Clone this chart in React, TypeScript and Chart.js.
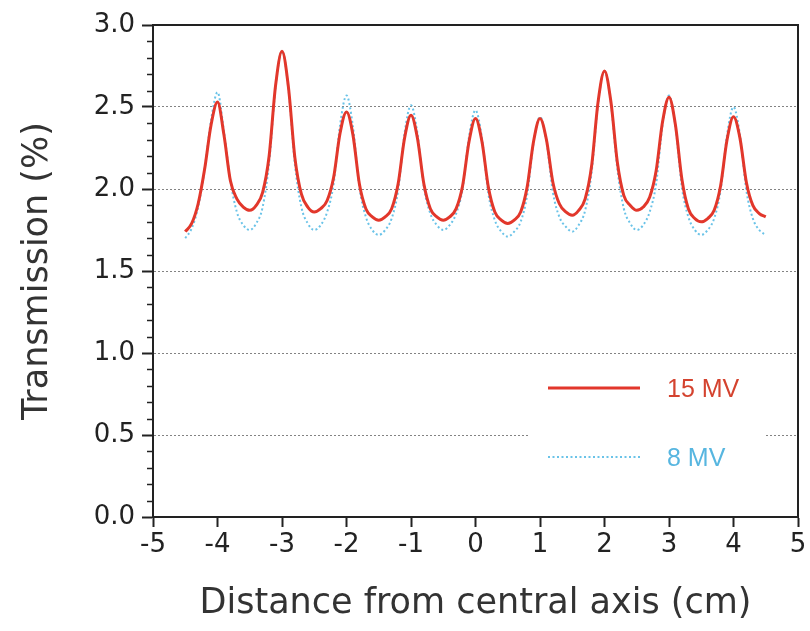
import React, { useEffect, useRef } from 'react';
import { Chart, registerables } from 'chart.js';

Chart.register(...registerables);

// ---------- data ----------
const distances = [
  -4.5, -4.4, -4.3, -4.2, -4.1, -4.0, -3.9, -3.8, -3.7, -3.6, -3.5,
  -3.4, -3.3, -3.2, -3.1, -3.0, -2.9, -2.8, -2.7, -2.6, -2.5,
  -2.4, -2.3, -2.2, -2.1, -2.0, -1.9, -1.8, -1.7, -1.6, -1.5,
  -1.4, -1.3, -1.2, -1.1, -1.0, -0.9, -0.8, -0.7, -0.6, -0.5,
  -0.4, -0.3, -0.2, -0.1, 0.0, 0.1, 0.2, 0.3, 0.4, 0.5,
  0.6, 0.7, 0.8, 0.9, 1.0, 1.1, 1.2, 1.3, 1.4, 1.5,
  1.6, 1.7, 1.8, 1.9, 2.0, 2.1, 2.2, 2.3, 2.4, 2.5,
  2.6, 2.7, 2.8, 2.9, 3.0, 3.1, 3.2, 3.3, 3.4, 3.5,
  3.6, 3.7, 3.8, 3.9, 4.0, 4.1, 4.2, 4.3, 4.4, 4.5,
];

const transmission15MV = [
  1.74, 1.79, 1.91, 2.12, 2.39, 2.53, 2.33, 2.05, 1.94, 1.89, 1.87,
  1.90, 1.98, 2.20, 2.63, 2.84, 2.62, 2.19, 1.97, 1.89, 1.86,
  1.88, 1.93, 2.07, 2.34, 2.47, 2.33, 2.03, 1.88, 1.83, 1.81,
  1.83, 1.88, 2.03, 2.31, 2.45, 2.31, 2.03, 1.88, 1.83, 1.81,
  1.83, 1.88, 2.02, 2.29, 2.43, 2.29, 2.01, 1.86, 1.81, 1.79,
  1.81, 1.86, 2.01, 2.29, 2.43, 2.30, 2.04, 1.91, 1.86, 1.84,
  1.87, 1.94, 2.14, 2.53, 2.72, 2.53, 2.16, 1.96, 1.90, 1.87,
  1.89, 1.95, 2.11, 2.41, 2.56, 2.39, 2.06, 1.88, 1.82, 1.80,
  1.82, 1.87, 2.02, 2.30, 2.44, 2.31, 2.04, 1.90, 1.85, 1.83,
];

const transmission8MV = [
  1.70, 1.76, 1.89, 2.12, 2.42, 2.59, 2.35, 2.05, 1.86, 1.78, 1.75,
  1.79, 1.89, 2.16, 2.62, 2.84, 2.61, 2.15, 1.89, 1.79, 1.75,
  1.78, 1.86, 2.03, 2.39, 2.57, 2.38, 2.01, 1.83, 1.75, 1.72,
  1.75, 1.82, 1.99, 2.34, 2.51, 2.34, 2.01, 1.85, 1.78, 1.75,
  1.78, 1.85, 2.00, 2.32, 2.48, 2.31, 1.97, 1.81, 1.74, 1.71,
  1.74, 1.80, 1.96, 2.28, 2.44, 2.29, 1.98, 1.83, 1.77, 1.74,
  1.78, 1.87, 2.10, 2.52, 2.72, 2.52, 2.12, 1.88, 1.79, 1.75,
  1.78, 1.86, 2.03, 2.39, 2.57, 2.38, 2.01, 1.83, 1.75, 1.72,
  1.75, 1.82, 1.99, 2.33, 2.50, 2.33, 1.99, 1.82, 1.75, 1.72,
];

const seriesLabels = ['15 MV', '8 MV'];
const xAxisTitle = 'Distance from central axis (cm)';
const yAxisTitle = 'Transmission (%)';

// ---------- styles ----------
const AXIS_COLOR = '#222222';
const RED = '#e2372b';
const RED_TEXT = '#d4432f';
const BLUE = '#6ac3e8';
const BLUE_TEXT = '#57b6e0';
const FONT = "'DejaVu Sans', sans-serif";

const framePlugin = {
  id: 'frame',
  afterDraw(chart: any) {
    const { ctx, chartArea: a, scales } = chart;
    ctx.save();
    ctx.strokeStyle = AXIS_COLOR;
    ctx.lineWidth = 2;
    ctx.beginPath();
    ctx.moveTo(a.left, a.top);
    ctx.lineTo(a.right, a.top);
    ctx.lineTo(a.right, a.bottom);
    ctx.stroke();
    // minor ticks on y axis every 0.1
    const ys = scales.y;
    ctx.lineWidth = 1.5;
    for (let i = 0; i <= 30; i++) {
      if (i % 5 === 0) continue;
      const py = Math.round(ys.getPixelForValue(i / 10)) + 0.5;
      ctx.beginPath();
      ctx.moveTo(a.left - 6, py);
      ctx.lineTo(a.left, py);
      ctx.stroke();
    }
    ctx.restore();
  },
};

const legendPlugin = {
  id: 'insideLegend',
  afterDatasetsDraw(chart: any) {
    const { ctx, chartArea: a } = chart;
    const boxL = a.left + 377;
    const boxT = a.top + 342;
    ctx.save();
    ctx.fillStyle = '#ffffff';
    ctx.fillRect(boxL, boxT, 235, 122);
    const rows = [a.top + 363, a.top + 432];
    const textColors = [RED_TEXT, BLUE_TEXT];
    chart.data.datasets.forEach((ds: any, i: number) => {
      const y = rows[i];
      ctx.strokeStyle = ds.borderColor;
      ctx.lineWidth = ds.borderWidth;
      ctx.setLineDash(ds.borderDash || []);
      ctx.beginPath();
      ctx.moveTo(a.left + 395, y);
      ctx.lineTo(a.left + 487, y);
      ctx.stroke();
      ctx.setLineDash([]);
      ctx.fillStyle = textColors[i];
      ctx.font = "25px 'Liberation Sans', Arial, sans-serif";
      ctx.textBaseline = 'middle';
      ctx.textAlign = 'left';
      ctx.fillText(ds.label, a.left + 514, y + 2);
    });
    ctx.restore();
  },
};

export default function App() {
  const canvasRef = useRef<HTMLCanvasElement>(null);

  useEffect(() => {
    if (!canvasRef.current) return;
    const chart = new Chart(canvasRef.current, {
      type: 'line',
      data: {
        datasets: [
          {
            label: seriesLabels[0],
            data: distances.map((x, i) => ({ x, y: transmission15MV[i] })),
            borderColor: RED,
            borderWidth: 3,
            pointRadius: 0,
            cubicInterpolationMode: 'monotone',
            fill: false,
          },
          {
            label: seriesLabels[1],
            data: distances.map((x, i) => ({ x, y: transmission8MV[i] })),
            borderColor: BLUE,
            borderWidth: 2,
            borderDash: [2, 2.5],
            pointRadius: 0,
            cubicInterpolationMode: 'monotone',
            fill: false,
          },
        ],
      },
      options: {
        animation: false,
        responsive: false,
        maintainAspectRatio: false,
        layout: { padding: { left: 8, top: 25, right: 12, bottom: 4 } },
        plugins: {
          legend: { display: false },
          tooltip: { enabled: false },
        },
        scales: {
          x: {
            type: 'linear',
            min: -5,
            max: 5,
            afterFit: (s: any) => {
              s.height = 110;
            },
            ticks: {
              stepSize: 1,
              padding: 3,
              color: AXIS_COLOR,
              font: { family: FONT, size: 26 },
              maxRotation: 0,
              callback: (v: any) => String(v),
            },
            grid: {
              drawOnChartArea: false,
              drawTicks: true,
              tickLength: 10,
              tickColor: AXIS_COLOR,
              tickWidth: 2,
            },
            border: { display: true, color: AXIS_COLOR, width: 2 },
            title: {
              display: true,
              text: xAxisTitle,
              color: '#333333',
              font: { family: FONT, size: 35 },
              padding: { top: 0, bottom: 2 },
            },
          },
          y: {
            type: 'linear',
            min: 0,
            max: 3,
            afterFit: (s: any) => {
              s.width = 145;
            },
            ticks: {
              stepSize: 0.5,
              padding: 7,
              color: AXIS_COLOR,
              font: { family: FONT, size: 26 },
              callback: (v: any) => Number(v).toFixed(1),
            },
            grid: {
              drawOnChartArea: true,
              drawTicks: true,
              tickLength: 11,
              tickWidth: 2,
              tickColor: AXIS_COLOR,
              lineWidth: 1,
              color: (c: any) =>
                c.tick && c.tick.value > 0 && c.tick.value < 3 ? 'rgba(100,100,100,0.8)' : 'rgba(0,0,0,0)',
            },
            border: { display: true, color: AXIS_COLOR, width: 2, dash: [2, 2] },
            title: {
              display: true,
              text: yAxisTitle,
              color: '#333333',
              font: { family: FONT, size: 35 },
              padding: { top: 9, bottom: 0 },
            },
          },
        },
      } as any,
      plugins: [legendPlugin, framePlugin],
    });
    return () => chart.destroy();
  }, []);

  return (
    <div style={{ position: 'fixed', left: 0, top: 0, width: 810, height: 631, background: '#ffffff' }}>
      <canvas ref={canvasRef} width={810} height={631} style={{ width: 810, height: 631, display: 'block' }} />
    </div>
  );
}
